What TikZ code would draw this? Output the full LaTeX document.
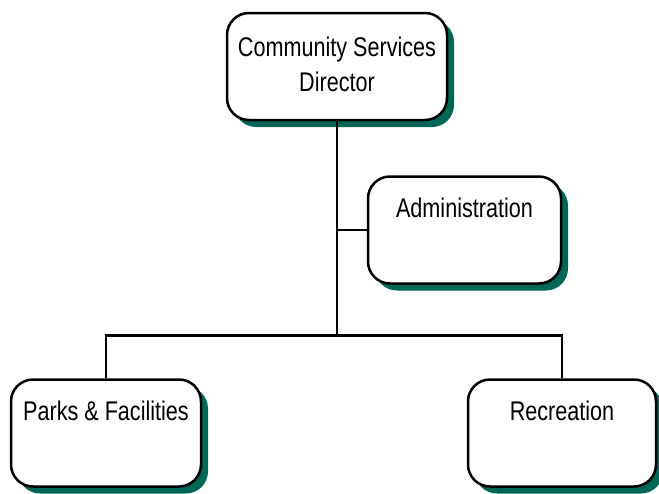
\documentclass[tikz,border=0pt]{standalone}
\usepackage{fontspec}
\setmainfont{Liberation Sans}[FakeStretch=0.8]
\usetikzlibrary{positioning,shadows}
\definecolor{shade}{HTML}{006655}

\begin{document}
\begin{tikzpicture}[x=1pt, y=1pt,
    font=\fontsize{27}{35}\selectfont,
    unit/.style={draw, line width=2.5pt, rounded corners=22pt, fill=white,
      align=center, minimum height=107pt,
      drop shadow={shadow xshift=7pt, shadow yshift=-7pt, fill=shade, opacity=1}},
    link/.style={line width=2.6pt}]
  \useasboundingbox (0,0) rectangle (659,-493);
  \node[unit, minimum width=220pt] (director) at (337,-66.5) {Community Services\\Director\\[-31pt]\mbox{}};
  \node[unit, minimum width=193pt, below=54pt of director, xshift=127.5pt] (admin) {Administration\\[10pt]\mbox{}};
  \node[unit, minimum width=190pt, below=257pt of director, xshift=-231pt] (parks) {Parks \& Facilities\\[10pt]\mbox{}};
  \node[unit, minimum width=188pt, below=257pt of director, xshift=225pt] (recreation) {Recreation\\[10pt]\mbox{}};
  % trunk, admin branch and the bottom bar
  \draw[link] (director.south) -- ++(0,-214) coordinate (split);
  \draw[link] (admin.west) -- (admin.west -| director.south);
  \draw[link] (parks.north) |- (split) -| (recreation.north);
\end{tikzpicture}
\end{document}
